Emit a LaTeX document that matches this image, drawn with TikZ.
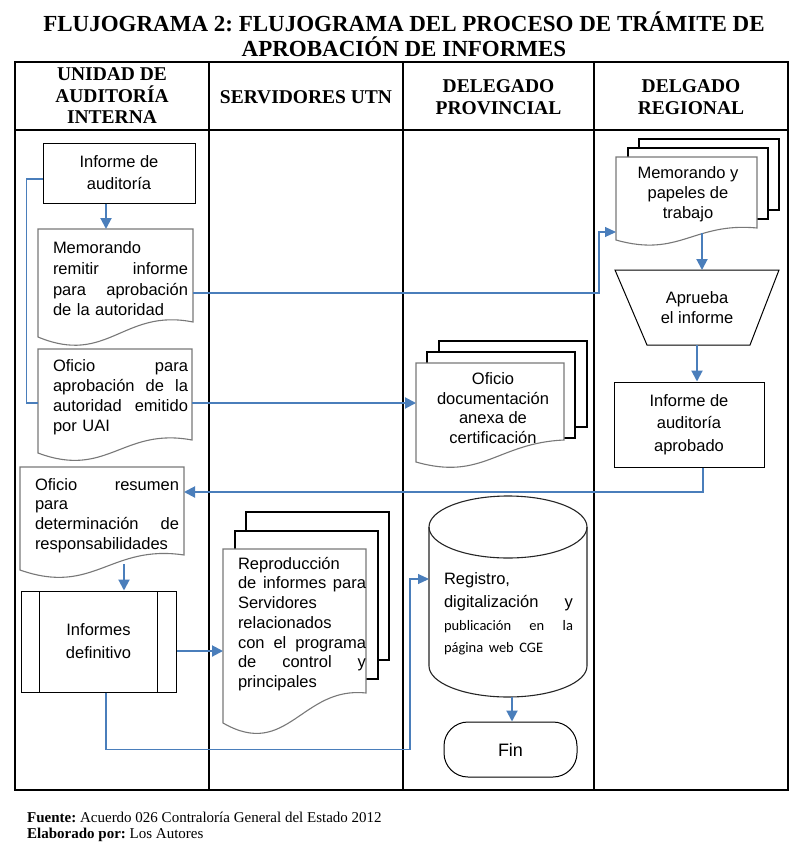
\documentclass[tikz,border=0pt]{standalone}
\usepackage{fontspec}
\usetikzlibrary{arrows.meta,calc}
\newfontfamily\arialf{Liberation Sans}
\newfontfamily\timesf{Liberation Serif}
\newfontfamily\carlitof{Carlito}
\frenchspacing
\definecolor{flowblue}{RGB}{74,126,187}
\definecolor{docgray}{RGB}{120,120,120}
% doc outline: style, x1, y1, x2, yR, d, a
\newcommand\docshape[7]{%
  \draw[#1] (#2,#3) -- (#4,#3) -- (#4,#5)
    .. controls ({#2+0.55*(#4-#2)},{#5+#6-#7}) and ({#2+0.45*(#4-#2)},{#5+#6+#7}) .. (#2,{#5+#6}) -- cycle;}
% back page: x1, y1, x2, yR, ynextTop, xnextRight
\newcommand\backpage[6]{%
  \draw[backline] (#1,#5) -- (#1,#2) -- (#3,#2) -- (#3,#4) -- (#6,#4);}
\tikzset{
  lane/.style={draw=black, line width=1.3pt},
  titlef/.style={font=\timesf\bfseries\fontsize{23}{26}\selectfont, inner sep=0pt},
  headf/.style={font=\timesf\bfseries\fontsize{19.5}{21.5}\selectfont, align=center, inner sep=0pt},
  footf/.style={font=\timesf\fontsize{15}{18}\selectfont, inner sep=0pt, anchor=west},
  txt/.style={font=\arialf\fontsize{16.5}{#1}\selectfont, inner sep=0pt},
  txt/.default=20.5,
  area/.style 2 args={inner sep=0pt, outer sep=0pt, minimum width=#1, minimum height=#2, draw=none},
  box/.style={draw=black, line width=1pt, inner sep=0pt, align=center},
  docline/.style={draw=docgray, line width=1.1pt, fill=white},
  backline/.style={draw=black, line width=1.1pt},
  flow/.style={draw=flowblue, line width=2pt, -{Triangle[length=11pt,width=11pt]}},
  thinflow/.style={draw=flowblue, line width=1.1pt, -{Triangle[length=11pt,width=10pt]}},
  thinline/.style={draw=flowblue, line width=1.1pt},
}
\begin{document}
\begin{tikzpicture}[x=1pt,y=-1pt]
\useasboundingbox (0,0) rectangle (807,852);
\fill[white] (0,0) rectangle (807,852);

% titles
\node[titlef] (t1) at (404,22) {FLUJOGRAMA 2: FLUJOGRAMA DEL PROCESO DE TRÁMITE DE};
\node[titlef] (t2) at (404,47) {APROBACIÓN DE INFORMES};

% swimlanes
\draw[lane] (15,62) rectangle (788,790);
\draw[lane] (209,62) -- (209,790);
\draw[lane] (403,62) -- (403,790);
\draw[lane] (594,62) -- (594,790);
\draw[lane] (15,130) -- (788,130);
\node[headf] (h1) at (112,96) {UNIDAD DE\\AUDITORÍA\\INTERNA};
\node[headf] (h2) at (306,97) {SERVIDORES UTN};
\node[headf] (h3) at (498.5,97) {DELEGADO\\PROVINCIAL};
\node[headf] (h4) at (691,97) {DELGADO\\REGIONAL};

% ---------- lane 1 ----------
\node[box, txt=22, minimum width=152pt, minimum height=60pt] (inf) at (119,173) {Informe de\\auditoría};

\docshape{docline}{38}{229}{193}{322}{15}{29}
\node[area={155pt}{93pt}] (memo) at (115.5,275.5) {};
\node[txt=20.7, text width=135pt, align=left] (memotxt) at (120.5,279)
  {Memorando\\remitir\hfill informe\\para\hfill aprobación\\de la autoridad};

\docshape{docline}{38}{349}{192}{440}{13}{26}
\node[area={154pt}{91pt}] (ofp) at (115,394.5) {};
\node[txt=20, text width=135pt, align=left] (ofptxt) at (120.5,397)
  {Oficio\hfill para\\aprobación\hfill de\hfill la\\autoridad\hfill emitido\\por UAI};

\docshape{docline}{20}{467}{184}{555}{15}{26}
\node[area={164pt}{88pt}] (ors) at (102,511) {};
\node[txt=19.7, text width=144pt, align=left] (orstxt) at (107,515.5)
  {Oficio\hfill resumen\\para\\determinación\hfill de\\responsabilidades};

\node[box, txt=23, minimum width=155pt, minimum height=101pt] (def) at (98.5,641.5) {Informes\\definitivo};
\draw[line width=1pt] (39,591) -- (39,692);
\draw[line width=1pt] (157,591) -- (157,692);

% ---------- lane 2 ----------
\backpage{246}{512}{389}{660}{531}{378}
\backpage{235}{531}{378}{679}{549}{366}
\docshape{docline}{223}{549}{366}{693}{30}{37}
\node[area={143pt}{144pt}] (rep) at (294.5,621) {};
\node[txt=19.7, text width=128pt, align=left] (reptxt) at (302,624)
  {Reproducción\\de\hfill informes\hfill para\\Servidores\\relacionados\\con\hfill el\hfill programa\\de\hfill control\hfill y\\principales};

% ---------- lane 3 ----------
\backpage{439}{341}{587}{427}{352}{575}
\backpage{427}{352}{575}{438}{363}{564}
\docshape{docline}{416}{363}{564}{440}{22}{19}
\node[area={148pt}{77pt}] (ofd) at (490,401.5) {};
\node[txt=19.5, align=center] (ofdtxt) at (493,408)
  {Oficio\\documentación\\anexa de\\certificación};

% cylinder
\node[area={158pt}{201pt}] (reg) at (508,596.5) {};
\draw[line width=1.1pt, draw=black!85] (429,527) -- (429,666)
   .. controls (429,683.1) and (464.4,697) .. (508,697)
   .. controls (551.6,697) and (587,683.1) .. (587,666) -- (587,527);
\draw[line width=1.1pt, draw=black!85] (508,527) ellipse [x radius=79pt, y radius=31pt];
\node[txt=22.7, text width=129pt, align=left] (regtxt) at (508.5,614)
  {Registro,\\
   digitalización\hfill y\\
   {\carlitof\fontsize{14.5}{22.7}\selectfont publicación\hfill en\hfill la}\\
   {\carlitof\fontsize{14.5}{22.7}\selectfont página web CGE}};

\node[box, font=\arialf\fontsize{18}{22}\selectfont, rounded corners=24pt, minimum width=133pt, minimum height=55pt] (fin) at (510.5,749.5) {Fin};

% ---------- lane 4 ----------
\backpage{639}{139}{779}{210}{148}{768}
\backpage{628}{148}{768}{219}{157}{757}
\docshape{docline}{616}{157}{757}{228}{12}{18}
\node[area={141pt}{71pt}] (myp) at (686.5,192.5) {};
\node[txt=20, align=center] (myptxt) at (688,194) {Memorando y\\papeles de\\trabajo};

\draw[line width=1pt] (615,270) -- (779,270) -- (750,345) -- (647,345) -- cycle;
\node[area={164pt}{75pt}] (apr) at (697,307.5) {};
\node[txt=20, align=center] (aprtxt) at (697,308) {Aprueba\\el informe};

\node[box, txt=22.5, minimum width=150pt, minimum height=85pt] (ifa) at (689,424.5) {Informe de\\auditoría\\aprobado};

% ---------- connectors ----------
\draw[flow] ([xshift=-13pt]inf.south) -- ([xshift=-13pt]inf.south |- memo.north);
\draw[thinline] ([yshift=-6pt]inf.west) -- ++(-16,0) |- ([yshift=-8.5pt]ofp.west);
\draw[thinflow] ([yshift=-17.5pt]memo.east) -| ([xshift=-17pt,yshift=-39.5pt]myp.west) -- ([yshift=-39.5pt]myp.west);
\draw[flow] ([yshift=-8.5pt]ofp.east) -- ([yshift=-8.5pt]ofp.east -| ofd.west);
\draw[flow] ([xshift=15.5pt,yshift=-5pt]myp.south) -- ([xshift=15.5pt]myp.south |- apr.north);
\draw[flow] (apr.south) -- (apr.south |- ifa.north);
\draw[flow] ([xshift=14pt]ifa.south) |- ([yshift=19pt]ors.east);
\draw[flow] ([xshift=22pt,yshift=-9pt]ors.south) -- ([xshift=22pt]ors.south |- def.north);
\draw[flow] ([yshift=-9.5pt]def.east) -- ([yshift=-9.5pt]def.east -| rep.west);
\draw[thinflow] ([xshift=7.5pt]def.south) -- ++(0,57) -| ([xshift=-19pt,yshift=17.5pt]reg.west) -- ([yshift=17.5pt]reg.west);
\draw[flow] ([xshift=4pt]reg.south) -- ([xshift=4pt]reg.south |- fin.north);

% footer
\node[footf] (f1) at (27,817) {\textbf{Fuente:} Acuerdo 026 Contraloría General del Estado 2012};
\node[footf] (f2) at (27,835) {\textbf{Elaborado por:} Los Autores};
\end{tikzpicture}
\end{document}
